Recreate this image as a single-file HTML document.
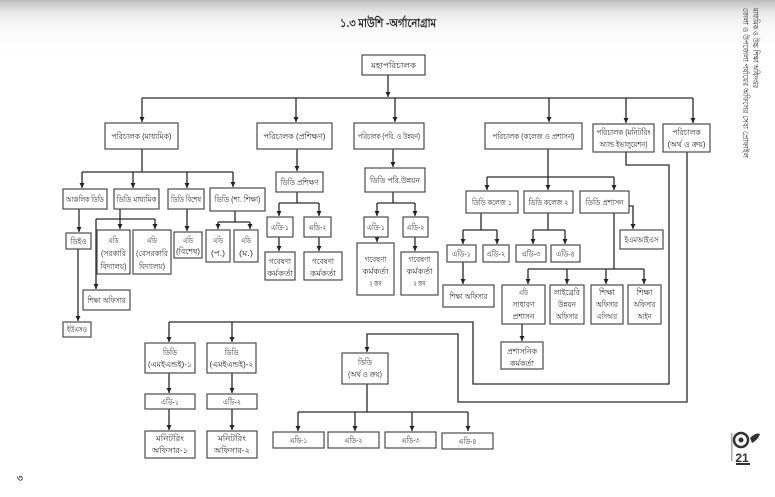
<!DOCTYPE html>
<html><head><meta charset="utf-8"><style>
html,body{margin:0;padding:0;background:#fff;}
body{width:775px;height:497px;overflow:hidden;position:relative;
background:linear-gradient(to bottom,#b9b9b9 0px,#cfcfcf 5px,#e9e9e9 13px,#f6f6f6 24px,#fdfdfd 40px,#fff 60px);}
svg{position:absolute;left:0;top:0;}
text{font-family:"Liberation Sans","Noto Sans CJK SC",sans-serif;fill:#2e2e2e;font-size:8px;}
.b{fill:#fff;stroke:#4a4a4a;stroke-width:1.2;}
.c{fill:none;stroke:#2a2a2a;stroke-width:1.3;}
</style></head><body>
<svg width="775" height="497" viewBox="0 0 775 497" xmlns="http://www.w3.org/2000/svg">
<defs>
<marker id="a" markerUnits="userSpaceOnUse" markerWidth="6" markerHeight="6" refX="5" refY="3" orient="auto">
<path d="M0,0.5 L5,3 L0,5.5 z" fill="#222"/></marker>
</defs>

<!-- title -->
<text x="388" y="27" text-anchor="middle" style="font-size:12px;font-weight:bold;fill:#222" textLength="96" lengthAdjust="spacingAndGlyphs">১.৩ মাউশি -অর্গানোগ্রাম</text>

<!-- side vertical text -->
<text transform="translate(753,8) rotate(90)" style="font-size:8px" textLength="80" lengthAdjust="spacingAndGlyphs">মাধ্যমিক ও উচ্চ শিক্ষা অধিদপ্তর</text>
<text transform="translate(743,8) rotate(90)" style="font-size:8px" textLength="150" lengthAdjust="spacingAndGlyphs">জেলা ও উপজেলা পর্যায়ের অফিসের সেবা প্রোফাইল</text>

<!-- connectors level 0/1 -->
<path class="c" d="M388,75 V97" marker-end="url(#a)"/>
<path class="c" d="M142,98 H693"/>
<path class="c" d="M142,98 V122" marker-end="url(#a)"/>
<path class="c" d="M296,98 V122" marker-end="url(#a)"/>
<path class="c" d="M395,98 V122" marker-end="url(#a)"/>
<path class="c" d="M549,98 V122" marker-end="url(#a)"/>
<path class="c" d="M626,98 V123" marker-end="url(#a)"/>
<path class="c" d="M693,98 V123" marker-end="url(#a)"/>

<!-- madhyamik subtree -->
<path class="c" d="M142,149 V172 M82,172 H233"/>
<path class="c" d="M82,172 V188" marker-end="url(#a)"/>
<path class="c" d="M133,172 V188" marker-end="url(#a)"/>
<path class="c" d="M187,172 V188" marker-end="url(#a)"/>
<path class="c" d="M233,172 V187" marker-end="url(#a)"/>
<path class="c" d="M79,209 V232" marker-end="url(#a)"/>
<path class="c" d="M78,249 V321" marker-end="url(#a)"/>
<path class="c" d="M120,209 V229" marker-end="url(#a)"/>
<path class="c" d="M96,219 H155"/>
<path class="c" d="M155,219 V229" marker-end="url(#a)"/>
<path class="c" d="M96,219 V289" marker-end="url(#a)"/>
<path class="c" d="M187,209 V231" marker-end="url(#a)"/>
<path class="c" d="M235,211 V222 M218,222 H250"/>
<path class="c" d="M218,222 V229" marker-end="url(#a)"/>
<path class="c" d="M250,222 V229" marker-end="url(#a)"/>

<!-- training subtree -->
<path class="c" d="M297,149 V171" marker-end="url(#a)"/>
<path class="c" d="M297,192 V203 M279,203 H319"/>
<path class="c" d="M279,203 V216" marker-end="url(#a)"/>
<path class="c" d="M319,203 V216" marker-end="url(#a)"/>
<path class="c" d="M279,237 V251" marker-end="url(#a)"/>
<path class="c" d="M319,237 V251" marker-end="url(#a)"/>

<!-- planning subtree -->
<path class="c" d="M393,149 V167" marker-end="url(#a)"/>
<path class="c" d="M393,192 V203 M377,203 H415"/>
<path class="c" d="M377,203 V216" marker-end="url(#a)"/>
<path class="c" d="M415,203 V216" marker-end="url(#a)"/>
<path class="c" d="M377,237 V242" marker-end="url(#a)"/>
<path class="c" d="M415,237 V251" marker-end="url(#a)"/>

<!-- college & admin subtree -->
<path class="c" d="M548,149 V177 M487,177 H614"/>
<path class="c" d="M487,177 V190" marker-end="url(#a)"/>
<path class="c" d="M548,177 V190" marker-end="url(#a)"/>
<path class="c" d="M614,177 V190" marker-end="url(#a)"/>
<path class="c" d="M481,213 V230 M463,230 H497"/>
<path class="c" d="M463,230 V244" marker-end="url(#a)"/>
<path class="c" d="M497,230 V244" marker-end="url(#a)"/>
<path class="c" d="M548,213 V230 M533,230 H565"/>
<path class="c" d="M533,230 V244" marker-end="url(#a)"/>
<path class="c" d="M565,230 V244" marker-end="url(#a)"/>
<path class="c" d="M463,262 V284" marker-end="url(#a)"/>
<path class="c" d="M629,206 H633 V229" marker-end="url(#a)"/>
<path class="c" d="M614,213 V269 M528,269 H644"/>
<path class="c" d="M528,269 V284" marker-end="url(#a)"/>
<path class="c" d="M567,269 V284" marker-end="url(#a)"/>
<path class="c" d="M606,269 V284" marker-end="url(#a)"/>
<path class="c" d="M644,269 V284" marker-end="url(#a)"/>
<path class="c" d="M522,324 V341" marker-end="url(#a)"/>

<!-- monitoring route -->
<path class="c" d="M626,152 V165 H669 V384 H473 V322 H169"/>
<path class="c" d="M169,322 V342" marker-end="url(#a)"/>
<path class="c" d="M232,322 V342" marker-end="url(#a)"/>
<path class="c" d="M169,373 V393" marker-end="url(#a)"/>
<path class="c" d="M232,373 V393" marker-end="url(#a)"/>
<path class="c" d="M169,409 V430" marker-end="url(#a)"/>
<path class="c" d="M232,409 V430" marker-end="url(#a)"/>

<!-- finance route -->
<path class="c" d="M687,152 V402 H458 V334 H367 V352" marker-end="url(#a)"/>
<path class="c" d="M367,384 V412 M298,412 H468"/>
<path class="c" d="M298,412 V431" marker-end="url(#a)"/>
<path class="c" d="M355,412 V431" marker-end="url(#a)"/>
<path class="c" d="M412,412 V431" marker-end="url(#a)"/>
<path class="c" d="M468,412 V431" marker-end="url(#a)"/>

<!-- boxes -->
<rect class="b" x="362" y="55" width="63" height="20"/>
<rect class="b" x="105" y="123" width="73" height="26"/>
<rect class="b" x="257" y="123" width="75" height="26"/>
<rect class="b" x="354" y="123" width="70" height="26"/>
<rect class="b" x="485" y="123" width="97" height="26"/>
<rect class="b" x="593" y="124" width="61" height="28"/>
<rect class="b" x="663" y="124" width="47" height="28"/>

<rect class="b" x="63" y="189" width="44" height="20"/>
<rect class="b" x="114" y="189" width="45" height="20"/>
<rect class="b" x="168" y="189" width="36" height="20"/>
<rect class="b" x="210" y="188" width="55" height="23"/>
<rect class="b" x="66" y="233" width="25" height="16"/>
<rect class="b" x="63" y="322" width="28" height="15"/>
<rect class="b" x="97" y="230" width="33" height="44"/>
<rect class="b" x="133" y="230" width="38" height="44"/>
<rect class="b" x="83" y="290" width="47" height="20"/>
<rect class="b" x="174" y="232" width="28" height="26"/>
<rect class="b" x="206" y="230" width="24" height="32"/>
<rect class="b" x="234" y="230" width="24" height="32"/>

<rect class="b" x="276" y="172" width="47" height="20"/>
<rect class="b" x="267" y="217" width="26" height="20"/>
<rect class="b" x="304" y="217" width="27" height="20"/>
<rect class="b" x="265" y="252" width="30" height="28"/>
<rect class="b" x="304" y="252" width="38" height="28"/>

<rect class="b" x="365" y="168" width="60" height="24"/>
<rect class="b" x="364" y="217" width="24" height="20"/>
<rect class="b" x="403" y="217" width="25" height="20"/>
<rect class="b" x="357" y="243" width="37" height="52"/>
<rect class="b" x="401" y="252" width="37" height="43"/>

<rect class="b" x="466" y="191" width="52" height="22"/>
<rect class="b" x="524" y="191" width="49" height="22"/>
<rect class="b" x="580" y="191" width="49" height="22"/>
<rect class="b" x="447" y="245" width="29" height="17"/>
<rect class="b" x="483" y="245" width="26" height="17"/>
<rect class="b" x="516" y="245" width="30" height="17"/>
<rect class="b" x="551" y="245" width="29" height="17"/>
<rect class="b" x="443" y="285" width="51" height="22"/>
<rect class="b" x="620" y="230" width="43" height="19"/>
<rect class="b" x="502" y="285" width="43" height="39"/>
<rect class="b" x="550" y="285" width="34" height="39"/>
<rect class="b" x="591" y="285" width="32" height="39"/>
<rect class="b" x="628" y="285" width="33" height="39"/>
<rect class="b" x="501" y="342" width="42" height="27"/>

<rect class="b" x="145" y="343" width="50" height="30"/>
<rect class="b" x="207" y="343" width="49" height="30"/>
<rect class="b" x="145" y="394" width="50" height="15"/>
<rect class="b" x="207" y="394" width="50" height="15"/>
<rect class="b" x="145" y="431" width="50" height="27"/>
<rect class="b" x="207" y="431" width="50" height="27"/>

<rect class="b" x="342" y="353" width="46" height="31"/>
<rect class="b" x="273" y="432" width="51" height="16"/>
<rect class="b" x="328" y="432" width="51" height="16"/>
<rect class="b" x="385" y="432" width="51" height="16"/>
<rect class="b" x="442" y="433" width="51" height="16"/>

<!-- labels -->
<g text-anchor="middle">
<text x="393.5" y="68" textLength="45" lengthAdjust="spacingAndGlyphs">মহাপরিচালক</text>
<text x="141.5" y="139" textLength="60" lengthAdjust="spacingAndGlyphs">পরিচালক (মাধ্যমিক)</text>
<text x="294.5" y="139" textLength="62" lengthAdjust="spacingAndGlyphs">পরিচালক (প্রশিক্ষণ)</text>
<text x="389" y="139" textLength="62" lengthAdjust="spacingAndGlyphs">পরিচালক (পরি. ও উন্নয়ন)</text>
<text x="533.5" y="139" textLength="82" lengthAdjust="spacingAndGlyphs">পরিচালক (কলেজ ও প্রশাসন)</text>
<text x="623.5" y="135" textLength="54" lengthAdjust="spacingAndGlyphs">পরিচালক (মনিটরিং</text>
<text x="623.5" y="147" textLength="48" lengthAdjust="spacingAndGlyphs">অ্যান্ড ইভালুয়েশন)</text>
<text x="686.5" y="135" textLength="28" lengthAdjust="spacingAndGlyphs">পরিচালক</text>
<text x="686.5" y="147" textLength="38" lengthAdjust="spacingAndGlyphs">(অর্থ ও ক্রয়)</text>

<text x="85" y="202" textLength="38" lengthAdjust="spacingAndGlyphs">আঞ্চলিক ডিডি</text>
<text x="136.5" y="202" textLength="40" lengthAdjust="spacingAndGlyphs">ডিডি মাধ্যমিক</text>
<text x="186" y="202" textLength="30" lengthAdjust="spacingAndGlyphs">ডিডি বিশেষ</text>
<text x="237.5" y="202" textLength="46" lengthAdjust="spacingAndGlyphs">ডিডি (শা. শিক্ষা)</text>
<text x="78.5" y="244" textLength="16" lengthAdjust="spacingAndGlyphs">ডিইও</text>
<text x="77" y="332" textLength="20" lengthAdjust="spacingAndGlyphs">ইউএসও</text>
<text x="113.5" y="243" textLength="10" lengthAdjust="spacingAndGlyphs">এডি</text>
<text x="113.5" y="256" textLength="25" lengthAdjust="spacingAndGlyphs">(সরকারি</text>
<text x="113.5" y="269" textLength="26" lengthAdjust="spacingAndGlyphs">বিদ্যালয়)</text>
<text x="152" y="243" textLength="10" lengthAdjust="spacingAndGlyphs">এডি</text>
<text x="152" y="256" textLength="32" lengthAdjust="spacingAndGlyphs">(বেসরকারি</text>
<text x="152" y="269" textLength="26" lengthAdjust="spacingAndGlyphs">বিদ্যালয়)</text>
<text x="106.5" y="303" textLength="38" lengthAdjust="spacingAndGlyphs">শিক্ষা অফিসার</text>
<text x="188" y="243" textLength="10" lengthAdjust="spacingAndGlyphs">এডি</text>
<text x="188" y="254" textLength="24" lengthAdjust="spacingAndGlyphs">(বিশেষ)</text>
<text x="218" y="243" textLength="10" lengthAdjust="spacingAndGlyphs">এডি</text>
<text x="218" y="256" textLength="14" lengthAdjust="spacingAndGlyphs">(প.)</text>
<text x="246" y="243" textLength="10" lengthAdjust="spacingAndGlyphs">এডি</text>
<text x="246" y="256" textLength="14" lengthAdjust="spacingAndGlyphs">(ম.)</text>

<text x="299.5" y="185" textLength="38" lengthAdjust="spacingAndGlyphs">ডিডি প্রশিক্ষণ</text>
<text x="280" y="230" textLength="18" lengthAdjust="spacingAndGlyphs">এডি-১</text>
<text x="317.5" y="230" textLength="18" lengthAdjust="spacingAndGlyphs">এডি-২</text>
<text x="280" y="264" textLength="22" lengthAdjust="spacingAndGlyphs">গবেষণা</text>
<text x="280" y="276" textLength="26" lengthAdjust="spacingAndGlyphs">কর্মকর্তা</text>
<text x="323" y="264" textLength="22" lengthAdjust="spacingAndGlyphs">গবেষণা</text>
<text x="323" y="276" textLength="26" lengthAdjust="spacingAndGlyphs">কর্মকর্তা</text>

<text x="395" y="183" textLength="50" lengthAdjust="spacingAndGlyphs">ডিডি পরি.উন্নয়ন</text>
<text x="376" y="230" textLength="18" lengthAdjust="spacingAndGlyphs">এডি-১</text>
<text x="415.5" y="230" textLength="18" lengthAdjust="spacingAndGlyphs">এডি-২</text>
<text x="375.5" y="262" textLength="22" lengthAdjust="spacingAndGlyphs">গবেষণা</text>
<text x="375.5" y="274" textLength="26" lengthAdjust="spacingAndGlyphs">কর্মকর্তা</text>
<text x="375.5" y="286" textLength="12" lengthAdjust="spacingAndGlyphs">২ জন</text>
<text x="419.5" y="262" textLength="22" lengthAdjust="spacingAndGlyphs">গবেষণা</text>
<text x="419.5" y="274" textLength="26" lengthAdjust="spacingAndGlyphs">কর্মকর্তা</text>
<text x="419.5" y="286" textLength="12" lengthAdjust="spacingAndGlyphs">২ জন</text>

<text x="492" y="205" textLength="40" lengthAdjust="spacingAndGlyphs">ডিডি কলেজ ১</text>
<text x="548.5" y="205" textLength="40" lengthAdjust="spacingAndGlyphs">ডিডি কলেজ ২</text>
<text x="604.5" y="205" textLength="38" lengthAdjust="spacingAndGlyphs">ডিডি প্রশাসন</text>
<text x="461.5" y="256.5" textLength="19" lengthAdjust="spacingAndGlyphs">এডি-১</text>
<text x="496" y="256.5" textLength="19" lengthAdjust="spacingAndGlyphs">এডি-২</text>
<text x="531" y="256.5" textLength="19" lengthAdjust="spacingAndGlyphs">এডি-৩</text>
<text x="565.5" y="256.5" textLength="19" lengthAdjust="spacingAndGlyphs">এডি-৪</text>
<text x="468.5" y="299" textLength="38" lengthAdjust="spacingAndGlyphs">শিক্ষা অফিসার</text>
<text x="641.5" y="242.5" textLength="34" lengthAdjust="spacingAndGlyphs">ইএমআইএস</text>
<text x="523.5" y="295" textLength="9" lengthAdjust="spacingAndGlyphs">এডি</text>
<text x="523.5" y="307" textLength="22" lengthAdjust="spacingAndGlyphs">সাধারণ</text>
<text x="523.5" y="319" textLength="22" lengthAdjust="spacingAndGlyphs">প্রশাসন</text>
<text x="567" y="295" textLength="26" lengthAdjust="spacingAndGlyphs">লাইব্রেরি</text>
<text x="567" y="307" textLength="18" lengthAdjust="spacingAndGlyphs">উন্নয়ন</text>
<text x="567" y="319" textLength="22" lengthAdjust="spacingAndGlyphs">অফিসার</text>
<text x="607" y="295" textLength="16" lengthAdjust="spacingAndGlyphs">শিক্ষা</text>
<text x="607" y="307" textLength="22" lengthAdjust="spacingAndGlyphs">অফিসার</text>
<text x="607" y="319" textLength="20" lengthAdjust="spacingAndGlyphs">এসিআর</text>
<text x="644.5" y="295" textLength="16" lengthAdjust="spacingAndGlyphs">শিক্ষা</text>
<text x="644.5" y="307" textLength="22" lengthAdjust="spacingAndGlyphs">অফিসার</text>
<text x="644.5" y="319" textLength="14" lengthAdjust="spacingAndGlyphs">আইন</text>
<text x="522" y="354" textLength="30" lengthAdjust="spacingAndGlyphs">প্রশাসনিক</text>
<text x="522" y="366" textLength="24" lengthAdjust="spacingAndGlyphs">কর্মকর্তা</text>

<text x="170" y="355" textLength="14" lengthAdjust="spacingAndGlyphs">ডিডি</text>
<text x="170" y="367" textLength="44" lengthAdjust="spacingAndGlyphs">(এমইএন্ডই)-১</text>
<text x="231.5" y="355" textLength="14" lengthAdjust="spacingAndGlyphs">ডিডি</text>
<text x="231.5" y="367" textLength="44" lengthAdjust="spacingAndGlyphs">(এমইএন্ডই)-২</text>
<text x="170" y="404.5" textLength="18" lengthAdjust="spacingAndGlyphs">এডি-১</text>
<text x="232" y="404.5" textLength="18" lengthAdjust="spacingAndGlyphs">এডি-২</text>
<text x="170" y="441" textLength="28" lengthAdjust="spacingAndGlyphs">মনিটরিং</text>
<text x="170" y="453" textLength="36" lengthAdjust="spacingAndGlyphs">অফিসার-১</text>
<text x="232" y="441" textLength="28" lengthAdjust="spacingAndGlyphs">মনিটরিং</text>
<text x="232" y="453" textLength="36" lengthAdjust="spacingAndGlyphs">অফিসার-২</text>

<text x="365" y="365" textLength="14" lengthAdjust="spacingAndGlyphs">ডিডি</text>
<text x="365" y="377" textLength="34" lengthAdjust="spacingAndGlyphs">(অর্থ ও ক্রয়)</text>
<text x="298.5" y="443" textLength="18" lengthAdjust="spacingAndGlyphs">এডি-১</text>
<text x="353.5" y="443" textLength="18" lengthAdjust="spacingAndGlyphs">এডি-২</text>
<text x="410.5" y="443" textLength="18" lengthAdjust="spacingAndGlyphs">এডি-৩</text>
<text x="467.5" y="444" textLength="18" lengthAdjust="spacingAndGlyphs">এডি-৪</text>
</g>

<!-- page number -->
<text x="17" y="481" style="font-size:9px;font-weight:bold;fill:#333">৩</text>

<!-- logo -->
<g>
<circle cx="741" cy="440" r="7" fill="none" stroke="#333" stroke-width="2.5"/>
<circle cx="741" cy="440" r="2.5" fill="#333"/>
<path d="M750,438 q6,-6 10,-4 q-2,6 -8,9 z" fill="#333"/>
<text x="742" y="462" text-anchor="middle" style="font-size:12px;font-weight:bold;fill:#333">21</text>
<rect x="736" y="463" width="14" height="2" fill="#333"/>
<rect x="731" y="433" width="1.5" height="28" fill="#aaa"/>
</g>
</svg>
</body></html>
